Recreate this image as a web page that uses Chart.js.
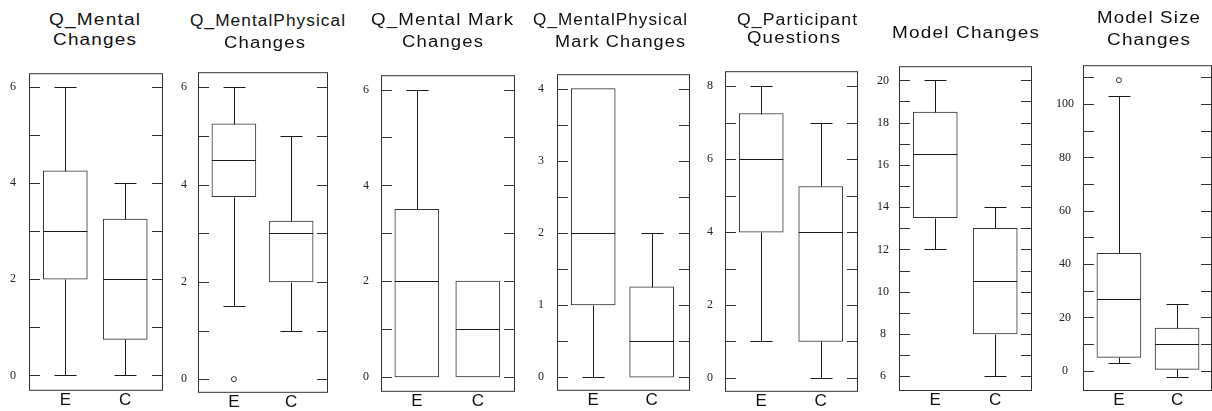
<!DOCTYPE html>
<html lang="en">
<head>
<meta charset="UTF-8">
<title>Changes by group</title>
<script src="https://cdn.jsdelivr.net/npm/chart.js"></script>
<style>
  html, body { margin: 0; padding: 0; background: #fff; }
  body { position: relative; width: 1212px; height: 411px; overflow: hidden; }
  canvas { position: absolute; }
  .ttl { position: absolute; font: 16px "Liberation Sans", Arial, sans-serif; line-height: 18px;
         white-space: nowrap; color: #111; transform-origin: 0 0; }
</style>
</head>
<body>
<script>
const groups = ['E', 'C'];

// five-number summaries: [lower whisker, q1, median, q3, upper whisker]
const mentalE = [0, 2, 3, 4.25, 6];
const mentalC = [0, 0.75, 2, 3.25, 4];
const mentalPhysE = [1.5, 3.75, 4.5, 5.25, 6];
const mentalPhysC = [1, 2, 3, 3.25, 5];
const mentalMarkE = [0, 0, 2, 3.5, 6];
const mentalMarkC = [0, 0, 1, 2, 2];
const mentalPhysMarkE = [0, 1, 2, 4, 4];
const mentalPhysMarkC = [0, 0, 0.5, 1.25, 2];
const questionsE = [1, 4, 6, 7.25, 8];
const questionsC = [0, 1, 4, 5.25, 7];
const modelE = [12, 13.5, 16.5, 18.5, 20];
const modelC = [6, 8, 10.5, 13, 14];
const modelSizeE = [3, 5, 27, 44, 103];
const modelSizeC = [-2.5, 0.5, 10, 16, 25];

// outliers
const mentalPhysOutE = [0];
const modelSizeOutE = [109];

const titles = [
  ['Q_Mental', 'Changes'],
  ['Q_MentalPhysical', 'Changes'],
  ['Q_Mental Mark', 'Changes'],
  ['Q_MentalPhysical', 'Mark Changes'],
  ['Q_Participant', 'Questions'],
  ['Model Changes'],
  ['Model Size', 'Changes']
];

const panels = [
  { stats: [mentalE, mentalC], out: [[], []] },
  { stats: [mentalPhysE, mentalPhysC], out: [mentalPhysOutE, []] },
  { stats: [mentalMarkE, mentalMarkC], out: [[], []] },
  { stats: [mentalPhysMarkE, mentalPhysMarkC], out: [[], []] },
  { stats: [questionsE, questionsC], out: [[], []] },
  { stats: [modelE, modelC], out: [[], []] },
  { stats: [modelSizeE, modelSizeC], out: [modelSizeOutE, []] }
];

// geometry of each panel's plot frame and axes
const layout = [
  { left: 29,   right: 162,  top: 53, bottom: 393, yMin: -0.32, yMax: 6.28,  step: 1,   labelStep: 2,  pad: 13, xMin: 0.394, xMax: 2.63 },
  { left: 198,  right: 332,  top: 54, bottom: 393, yMin: -0.28, yMax: 6.31,  step: 1,   labelStep: 2,  pad: 11, xMin: 0.373, xMax: 2.644 },
  { left: 381,  right: 514,  top: 56, bottom: 395, yMin: -0.31, yMax: 6.30,  step: 1,   labelStep: 2,  pad: 12, xMin: 0.413, xMax: 2.61 },
  { left: 557,  right: 689,  top: 54, bottom: 393, yMin: -0.19, yMax: 4.2,   step: 0.5, labelStep: 1,  pad: 13, xMin: 0.38,  xMax: 2.656 },
  { left: 725,  right: 857,  top: 52, bottom: 392, yMin: -0.38, yMax: 8.41,  step: 1,   labelStep: 2,  pad: 12, xMin: 0.39,  xMax: 2.627 },
  { left: 899,  right: 1031, top: 49, bottom: 390, yMin: 5.3,   yMax: 20.67, step: 1,   labelStep: 2,  pad: 10, xMin: 0.395, xMax: 2.613 },
  { left: 1083, right: 1216, top: 49, bottom: 390, yMin: -7.6,  yMax: 114.6, step: 10,  labelStep: 20, pad: 9,  xMin: 0.383, xMax: 2.6 }
];

// title lines: [left, right, baseline]
const titlePos = [
  [[49, 140, 25], [53, 136, 45]],
  [[190, 345, 26], [224, 305, 48]],
  [[371, 513, 25], [402, 483, 47]],
  [[533, 687, 25], [555, 685, 47]],
  [[737, 857, 25], [747, 840, 43]],
  [[892, 1039, 38]],
  [[1097, 1200, 23], [1107, 1190, 45]]
];

const boxExtras = {
  id: 'boxExtras',
  afterDatasetsDraw(chart, args, opts) {
    const { ctx, chartArea: a, scales: { y } } = chart;
    const py = v => Math.round(y.getPixelForValue(v)) + 0.5;
    const bars = chart.getDatasetMeta(0).data;
    ctx.save();
    ctx.lineWidth = 1;
    ctx.strokeStyle = '#1a1a1a';
    ctx.beginPath();
    opts.stats.forEach((s, i) => {
      const bar = bars[i];
      const cx = Math.round(bar.x) + 0.5;
      const half = bar.width / 4;
      const l = bar.x - bar.width / 2, r = bar.x + bar.width / 2;
      if (s[4] > s[3]) {
        ctx.moveTo(cx, py(s[3])); ctx.lineTo(cx, py(s[4]));
        ctx.moveTo(cx - half, py(s[4])); ctx.lineTo(cx + half, py(s[4]));
      }
      if (s[0] < s[1]) {
        ctx.moveTo(cx, py(s[1])); ctx.lineTo(cx, py(s[0]));
        ctx.moveTo(cx - half, py(s[0])); ctx.lineTo(cx + half, py(s[0]));
      }
      ctx.moveTo(l, py(s[2])); ctx.lineTo(r, py(s[2]));
    });
    ctx.stroke();

    ctx.strokeStyle = '#333';
    ctx.strokeRect(a.left + 0.5, a.top + 0.5, a.width - 1, a.height - 1);
    ctx.beginPath();
    y.ticks.forEach(t => {
      const p = py(t.value);
      ctx.moveTo(a.left, p); ctx.lineTo(a.left + 11, p);
      ctx.moveTo(a.right - 11, p); ctx.lineTo(a.right, p);
    });
    ctx.stroke();
    ctx.restore();
  }
};

const isMultiple = (v, m) => Math.abs(v / m - Math.round(v / m)) < 1e-6;

panels.forEach((p, k) => {
  const g = layout[k];
  const axisW = 46;
  const w = axisW + g.right - g.left + 1;
  const h = 411 - g.top;
  const cv = document.createElement('canvas');
  cv.width = w;
  cv.height = h;
  cv.style.left = (g.left - axisW) + 'px';
  cv.style.top = g.top + 'px';
  document.body.appendChild(cv);

  new Chart(cv, {
    type: 'bar',
    data: {
      datasets: [
        {
          data: p.stats.map((s, i) => ({ x: i + 1, y: [s[1], s[3]] })),
          backgroundColor: '#fff',
          borderColor: '#333',
          borderWidth: 1,
          borderSkipped: false,
          barThickness: 44
        },
        {
          type: 'scatter',
          data: p.out.flatMap((o, i) => o.map(v => ({ x: i + 1, y: v }))),
          pointRadius: 2.5,
          borderWidth: 1,
          borderColor: '#333',
          backgroundColor: '#fff'
        }
      ]
    },
    options: {
      responsive: false,
      animation: false,
      events: [],
      layout: { padding: 0 },
      plugins: {
        legend: { display: false },
        tooltip: { enabled: false },
        boxExtras: { stats: p.stats }
      },
      scales: {
        x: {
          type: 'linear',
          offset: false,
          min: g.xMin,
          max: g.xMax,
          afterBuildTicks: s => { s.ticks = groups.map((_, i) => ({ value: i + 1 })); },
          afterFit: s => { s.height = 411 - g.bottom - 1; },
          grid: { display: false, drawTicks: false, offset: false },
          border: { display: false },
          ticks: {
            autoSkip: false,
            maxRotation: 0,
            padding: 1,
            color: '#111',
            font: { family: "'Liberation Sans', Arial, sans-serif", size: 17, lineHeight: 1 },
            callback: v => groups[v - 1] || ''
          }
        },
        y: {
          type: 'linear',
          min: g.yMin,
          max: g.yMax,
          afterFit: s => { s.width = axisW; },
          grid: { display: false, drawTicks: false },
          border: { display: false },
          ticks: {
            stepSize: g.step,
            includeBounds: false,
            autoSkip: false,
            crossAlign: 'center',
            padding: g.pad,
            color: '#222',
            font: { family: "'Liberation Serif', 'Times New Roman', serif", size: 12 },
            callback: v => isMultiple(v, g.labelStep) ? v : ''
          }
        }
      }
    },
    plugins: [boxExtras]
  });
});

// panel titles, stretched to the width they take in the original
titles.forEach((lines, k) => {
  lines.forEach((text, j) => {
    const [l, r, base] = titlePos[k][j];
    const el = document.createElement('div');
    el.className = 'ttl';
    el.textContent = text;
    el.style.letterSpacing = '1px';
    document.body.appendChild(el);
    const natural = el.getBoundingClientRect().width - 1;
    el.style.left = l + 'px';
    el.style.top = (base - 14) + 'px';
    el.style.transform = 'scaleX(' + ((r - l) / natural).toFixed(3) + ')';
  });
});
</script>
</body>
</html>
